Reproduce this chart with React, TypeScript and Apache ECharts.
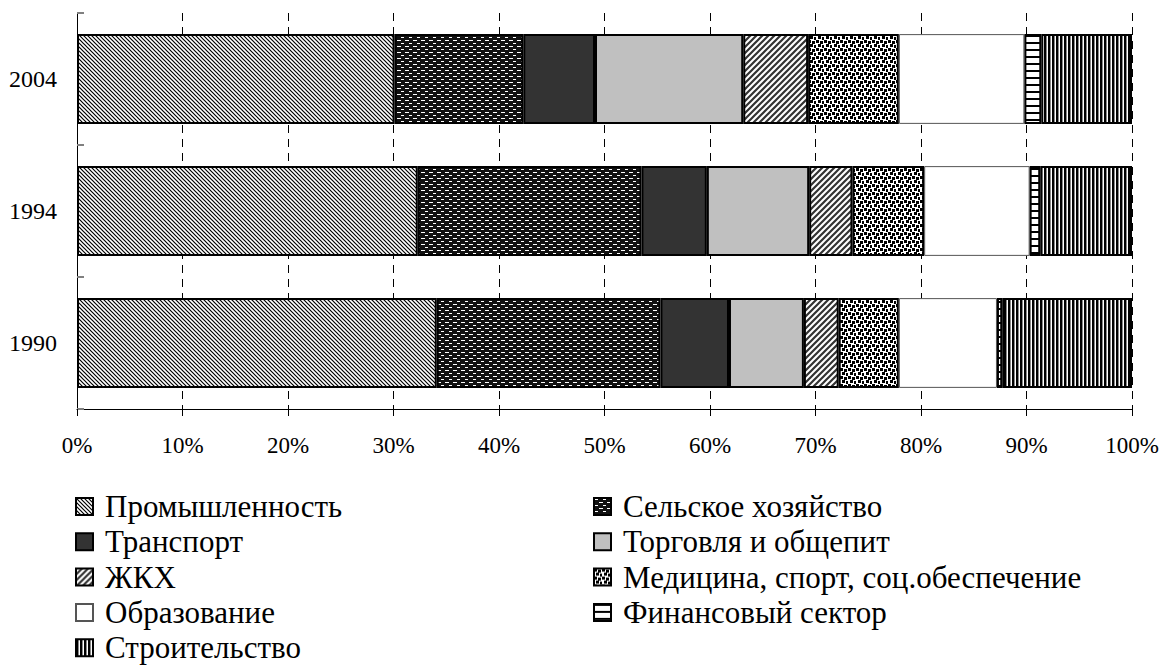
import React, { useEffect, useRef } from 'react';
import * as echarts from 'echarts';

const years = ['1990', '1994', '2004'];
const sectors = [
  'Промышленность',
  'Сельское хозяйство',
  'Транспорт',
  'Торговля и общепит',
  'ЖКХ',
  'Медицина, спорт, соц.обеспечение',
  'Образование',
  'Финансовый сектор',
  'Строительство',
];
// shares, % (order: 1990, 1994, 2004)
const industry = [34.1, 32.3, 30.1];
const agriculture = [21.2, 21.2, 12.2];
const transport = [6.5, 6.2, 6.8];
const trade = [7.1, 9.7, 14.05];
const housing = [3.3, 4.1, 6.15];
const medicine = [5.7, 6.8, 8.6];
const education = [9.3, 10.0, 11.9];
const finance = [0.5, 1.0, 1.6];
const construction = [12.3, 8.7, 8.6];
const seriesValues = [industry, agriculture, transport, trade, housing, medicine, education, finance, construction];
const legendLeft = ['Промышленность', 'Транспорт', 'ЖКХ', 'Образование', 'Строительство'];
const legendRight = ['Сельское хозяйство', 'Торговля и общепит', 'Медицина, спорт, соц.обеспечение', 'Финансовый сектор'];

const FONT = 'Liberation Serif';

const svgUrl = (w: number, h: number, body: string) =>
  'data:image/svg+xml;charset=utf-8,' +
  encodeURIComponent(`<svg xmlns="http://www.w3.org/2000/svg" width="${w}" height="${h}" shape-rendering="crispEdges">${body}</svg>`);
const pat = (w: number, h: number, body: string) => ({
  image: svgUrl(w, h, body),
  repeat: 'repeat',
  imageWidth: w,
  imageHeight: h,
});

const fills: any[] = [
  // Промышленность: dense downward diagonals
  pat(4, 4, '<rect width="4" height="4" fill="#fff"/><path d="M-1,-1 L5,5 M-1,3 L1,5 M3,-1 L5,1" stroke="#000" stroke-width="1.2" shape-rendering="auto"/>'),
  // Сельское хозяйство: black with small white dashes
  pat(8, 6, '<rect width="8" height="6" fill="#111"/><rect x="1" y="1" width="3" height="1" fill="#fff"/><rect x="5" y="4" width="3" height="1" fill="#fff"/><rect x="0" y="4" width="1" height="1" fill="#fff"/>'),
  // Транспорт
  '#333333',
  // Торговля
  '#C0C0C0',
  // ЖКХ: wide upward diagonals
  pat(6, 6, '<rect width="6" height="6" fill="#fff"/><path d="M-1,7 L7,-1 M-1,1 L1,-1 M5,7 L7,5" stroke="#333" stroke-width="2.2" shape-rendering="auto"/>'),
  // Медицина: large confetti
  pat(8, 8, '<rect width="8" height="8" fill="#fff"/><rect x="0" y="0" width="2.5" height="2.5" fill="#000"/><rect x="4" y="1" width="2.5" height="2.5" fill="#000"/><rect x="2" y="4" width="2.5" height="2.5" fill="#000"/><rect x="6" y="5" width="2" height="2.5" fill="#000"/>'),
  // Образование
  '#ffffff',
  // Финансовый сектор: horizontal lines
  pat(7, 7, '<rect width="7" height="7" fill="#fff"/><rect x="0" y="0" width="7" height="1.5" fill="#000"/>'),
  // Строительство: vertical lines
  pat(4, 4, '<rect width="4" height="4" fill="#fff"/><rect x="0" y="0" width="2" height="4" fill="#000"/><rect x="2" y="0" width="1" height="4" fill="#888"/>'),
];

export default function App() {
  const ref = useRef<HTMLDivElement>(null);

  useEffect(() => {
    if (!ref.current) return;
    const chart = echarts.init(ref.current, undefined, { renderer: 'svg' });

    const series = sectors.map((name, i) => ({
      name,
      type: 'bar',
      stack: 'total',
      data: seriesValues[i],
      barCategoryGap: '32%',
      itemStyle: {
        color: fills[i],
        borderColor: i === 6 ? '#555' : '#000',
        borderWidth: i === 6 ? 1 : 2,
      },
      emphasis: { disabled: true },
    }));

    const legendBase = {
      orient: 'vertical',
      top: 491,
      height: 200,
      itemWidth: 17,
      itemHeight: 17,
      itemGap: 4.3,
      padding: 0,
      icon: 'rect',
      selectedMode: false,
      textStyle: { fontFamily: FONT, fontSize: 31, color: '#000', lineHeight: 31, padding: [0, 0, 0, 7] },
    };

    chart.setOption({
      animation: false,
      backgroundColor: '#fff',
      textStyle: { fontFamily: FONT },
      grid: { left: 77, right: 34, top: 13, bottom: 256, containLabel: false },
      legend: [
        { ...legendBase, left: 75, data: legendLeft },
        { ...legendBase, left: 593, data: legendRight },
      ],
      xAxis: {
        type: 'value',
        min: 0,
        max: 100,
        interval: 10,
        axisLine: { show: true, lineStyle: { color: '#000', width: 1 } },
        axisTick: { show: true, length: 7, lineStyle: { color: '#000' } },
        axisLabel: { formatter: '{value}%', fontFamily: FONT, fontSize: 23, color: '#000', margin: 25 },
        splitLine: { show: true, lineStyle: { color: '#000', type: [8, 6], width: 1 } },
      },
      yAxis: {
        type: 'category',
        data: years,
        axisLine: { show: true, lineStyle: { color: '#000', width: 1 } },
        axisTick: { show: true, inside: true, length: 7, lineStyle: { color: '#808080', width: 2 } },
        axisLabel: { fontFamily: FONT, fontSize: 24, color: '#000', margin: 20 },
        splitLine: { show: false },
      },
      series,
    });

    return () => chart.dispose();
  }, []);

  return (
    <div
      ref={ref}
      style={{ position: 'fixed', left: 0, top: 0, width: 1166, height: 665, overflow: 'hidden', background: '#fff' }}
    />
  );
}
